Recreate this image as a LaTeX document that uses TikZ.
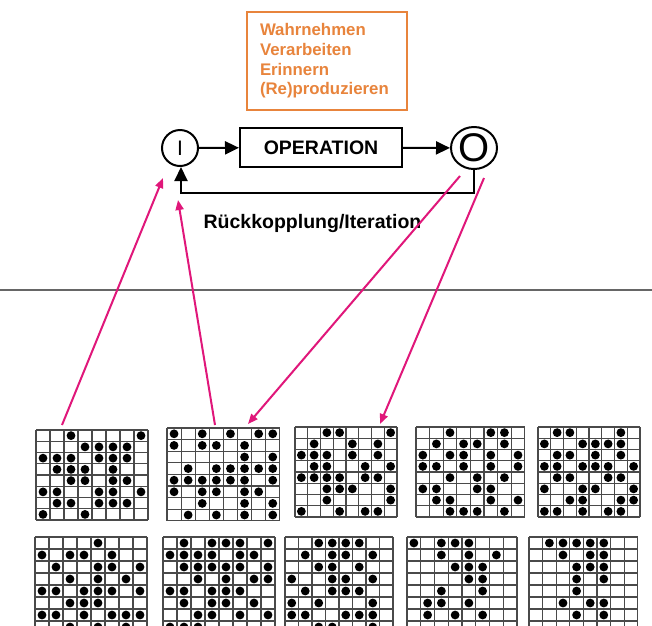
\documentclass[tikz,border=0pt]{standalone}
\usepackage{fontspec}
\setmainfont{Liberation Sans}
\usetikzlibrary{arrows.meta,shapes.geometric}
\definecolor{orng}{HTML}{E8843C}
\definecolor{pnk}{HTML}{E0177A}
\definecolor{gline}{HTML}{4A4A4A}
\tikzset{
  gridln/.style={draw=gline,line width=1.2pt},
  blk/.style={line width=2pt,-{Triangle[length=14pt,width=13pt]}},
  pinkarrow/.style={draw=pnk,line width=2pt,-{Triangle[length=10pt,width=8pt]}},
  circnode/.style={draw,line width=2pt,inner sep=0pt},
}
\newcommand\dotgrid[6]{%
 \begin{scope}[shift={(#1,#2)}]
  \fill[white] (0,0) rectangle ({8*#3},{#5*#4});
  \foreach \k in {0,...,8} \draw[gridln] ({\k*#3},0) -- ({\k*#3},{#5*#4});
  \foreach \k in {0,...,#5} \draw[gridln] (0,{\k*#4}) -- ({8*#3},{\k*#4});
  \foreach \c/\r in {#6} \fill[black] ({(\c-0.5)*#3},{(\r-0.5)*#4}) circle[radius=4.4pt];
 \end{scope}}
\begin{document}
\begin{tikzpicture}[x=1pt,y=-1pt]
\useasboundingbox (0,0) rectangle (652,625);
\fill[white] (0,0) rectangle (652,625);
\clip (0,0) rectangle (652,625);

% orange box
\node[draw=orng,line width=2.5pt,minimum width=160pt,minimum height=98pt,text width=134pt,align=left,inner sep=0pt,
  text=orng,font=\bfseries\fontsize{16.8}{19.7}\selectfont] (tasks) at (327,61)
  {Wahrnehmen\\Verarbeiten\\Erinnern\\(Re)produzieren};

% I / OPERATION / O
\node[circnode,circle,minimum size=36pt,font=\fontsize{21}{21}\selectfont] (I) at (180,148) {I};
\node[draw,line width=2pt,minimum width=162pt,minimum height=39pt,inner sep=0pt,font=\bfseries\fontsize{19.5}{20}\selectfont] (op) at (321,147.5) {OPERATION};
\node[circnode,ellipse,minimum width=46pt,minimum height=42pt,font=\fontsize{40}{40}\selectfont] (O) at (474,148) {O};
\draw[blk] (I) -- (op);
\draw[blk] (op) -- (O);
\coordinate (fbR) at (474,193);
\coordinate (fbL) at (181,193);
\draw[blk] (O.south) -- (fbR) -- (fbL) -- (I.south -| fbL);
\node[font=\bfseries\fontsize{19.5}{20}\selectfont] (fb) at (312.5,223) {Rückkopplung/Iteration};

% separator
\coordinate (sepL) at (0,290);
\coordinate (sepR) at (652,290);
\draw[draw=gray!80!black,line width=1.2pt] (sepL) -- (sepR);

% grids
\dotgrid{36}{430}{14}{11.25}{8}{3/1,8/1, 4/2,5/2,6/2,7/2, 1/3,2/3,3/3,5/3,6/3,7/3, 2/4,3/4,4/4,6/4, 3/5,4/5,6/5,7/5, 1/6,2/6,5/6,6/6,8/6, 2/7,3/7,5/7,6/7,7/7, 1/8,4/8}
\dotgrid{167}{428}{14.1}{11.6}{8}{1/1,3/1,5/1,7/1,8/1, 1/2,3/2,4/2,6/2, 6/3,8/3, 2/4,4/4,5/4,6/4,7/4,8/4, 1/5,2/5,3/5,4/5,5/5,6/5,8/5, 1/6,3/6,4/6,6/6,7/6, 3/7,6/7,8/7, 2/8,4/8,6/8,8/8}
\dotgrid{295}{427}{12.75}{11.25}{8}{3/1,4/1,8/1, 2/2,5/2,7/2, 1/3,2/3,3/3,5/3,7/3, 2/4,3/4,6/4,8/4, 1/5,2/5,3/5,4/5,6/5,7/5, 3/6,4/6,5/6,8/6, 3/7,8/7, 1/8,4/8,6/8,7/8}
\dotgrid{416}{427}{13.6}{11.25}{8}{3/1,6/1,7/1, 2/2,4/2,5/2,7/2, 1/3,3/3,4/3,6/3,8/3, 1/4,2/4,4/4,6/4,8/4, 3/5,5/5,7/5, 1/6,2/6,5/6,6/6, 2/7,3/7,6/7,8/7, 3/8,4/8,5/8,7/8}
\dotgrid{538}{427}{12.75}{11.25}{8}{2/1,3/1,7/1, 1/2,4/2,5/2,6/2,7/2, 2/3,3/3,5/3,7/3, 1/4,2/4,4/4,5/4,6/4,8/4, 2/5,3/5,6/5,7/5, 1/6,4/6,5/6,8/6, 3/7,4/7,7/7,8/7, 1/8,2/8,4/8,6/8,7/8}
\dotgrid{35}{537}{14}{12}{8}{5/1, 1/2,3/2,4/2,6/2, 2/3,5/3,6/3,8/3, 3/4,5/4,7/4, 1/5,2/5,4/5,5/5,6/5,8/5, 3/6,4/6,5/6, 1/7,2/7,4/7,6/7,7/7,8/7, 3/8,5/8,7/8}
\dotgrid{163}{537}{14}{12}{8}{2/1,4/1,5/1,6/1,8/1, 1/2,2/2,3/2,4/2,6/2,7/2, 2/3,3/3,4/3,5/3,6/3,8/3, 3/4,5/4,7/4,8/4, 1/5,2/5,4/5,5/5,6/5, 2/6,4/6,5/6,7/6, 3/7,4/7,6/7,8/7, 1/8,2/8,3/8}
\dotgrid{285}{537}{13.5}{12}{8}{3/1,4/1,5/1,6/1, 2/2,4/2,5/2,7/2, 3/3,4/3,6/3, 1/4,4/4,5/4,7/4, 2/5,4/5,5/5,6/5, 1/6,3/6,7/6, 1/7,2/7,5/7,6/7,7/7, 3/8,4/8,7/8}
\dotgrid{407}{537}{13.75}{12}{8}{1/1,3/1,4/1,5/1, 3/2,5/2,7/2, 4/3,5/3,6/3, 5/4,6/4, 3/5,6/5, 2/6,3/6,5/6, 2/7,4/7,6/7}
\dotgrid{529}{537}{13.6}{12}{8}{2/1,3/1,4/1,5/1,6/1, 3/2,5/2,6/2, 4/3,5/3,6/3, 4/4,6/4, 4/5, 3/6,5/6,6/6, 4/7,6/7}

% pink arrows
\coordinate (p1s) at (62,425);  \coordinate (p1e) at (163,178);
\coordinate (p2s) at (215,425); \coordinate (p2e) at (178,200);
\coordinate (p3s) at (460,176); \coordinate (p3e) at (248,424);
\coordinate (p4s) at (484,178); \coordinate (p4e) at (380,424);
\draw[pinkarrow] (p1s) -- (p1e);
\draw[pinkarrow] (p2s) -- (p2e);
\draw[pinkarrow] (p3s) -- (p3e);
\draw[pinkarrow] (p4s) -- (p4e);
\end{tikzpicture}
\end{document}
